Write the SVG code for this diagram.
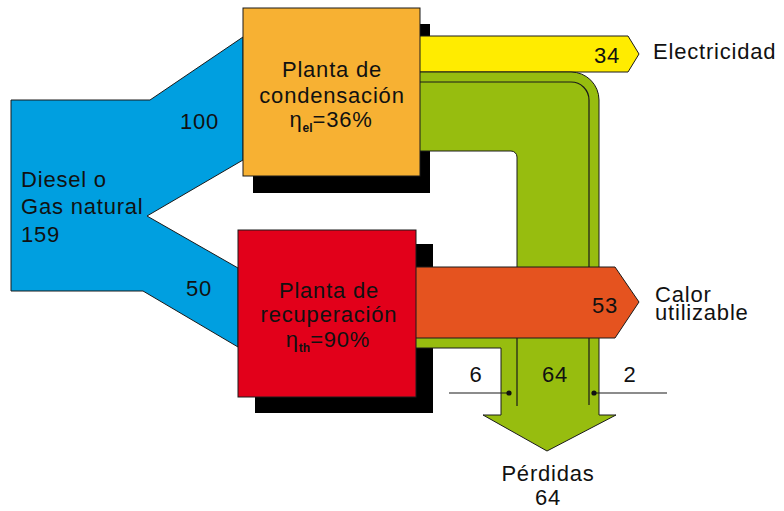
<svg xmlns="http://www.w3.org/2000/svg" width="784" height="511" viewBox="0 0 784 511">
<style>
  text { font-family: "Liberation Sans", Arial, sans-serif; font-size: 22px; letter-spacing: 0.8px; fill: #111; }
  .c { text-anchor: middle; }
  .e { text-anchor: end; }
  .sub { font-size: 12px; font-weight: bold; letter-spacing: 0; }
  .ol { stroke: #1a1a1a; stroke-width: 1; stroke-linejoin: miter; }
  .ln { fill: none; stroke: #1a1a1a; stroke-width: 1.2; }
  .shadow { fill: #000; }
</style>
<rect width="784" height="511" fill="#fff"/>

<g id="shadows">
  <rect class="shadow" x="253" y="24" width="177" height="169"/>
  <rect class="shadow" x="255" y="244" width="178" height="169"/>
</g>

<g id="connectors">
  <polygon id="flow-fuel" class="ol" fill="#009FE0" points="11,100 150,100 243,37 243,160 147,216 238,268 238,347 143,291 11,291"/>
  <polygon id="flow-electricity" class="ol" fill="#FFEC00" points="410,36 628,36 639,54 628,72 410,72"/>
  <path id="flow-losses" class="ol" fill="#97BD0F" d="M410,72 H571 A28,28 0 0 1 599,100 V415 H616 L547,451 L483,415 H501 V348 H410 V300 H517 V157 A6,6 0 0 0 511,151 H410 Z"/>
  <path class="ln" d="M410,82 H571 A18,18 0 0 1 589,100 V405"/>
  <polygon id="flow-heat" class="ol" fill="#E5531F" points="410,267 615,267 639,302 615,338 410,338"/>
  <line class="ln" x1="517" y1="338" x2="517" y2="406"/>
  <line class="ln" x1="449" y1="393" x2="509" y2="393"/>
  <circle cx="509" cy="393" r="2.6" fill="#111"/>
  <line class="ln" x1="594" y1="393" x2="667" y2="393"/>
  <circle cx="594" cy="393" r="2.6" fill="#111"/>
</g>

<g id="node-condensacion">
  <rect class="ol" x="243" y="8" width="177" height="168" fill="#F7B133"/>
  <text class="c" x="332" y="77">Planta de</text>
  <text class="c" x="332" y="103">condensación</text>
  <text class="c" x="331" y="127">η<tspan class="sub" dy="5">el</tspan><tspan dy="-5">=36%</tspan></text>
</g>

<g id="node-recuperacion">
  <rect class="ol" x="238" y="230" width="178" height="167" fill="#E2001A"/>
  <text class="c" x="329" y="298">Planta de</text>
  <text class="c" x="329" y="322">recuperación</text>
  <text class="c" x="328" y="347">η<tspan class="sub" dy="5">th</tspan><tspan dy="-5">=90%</tspan></text>
</g>

<g id="labels">
  <text x="21" y="187">Diesel o</text>
  <text x="21" y="214">Gas natural</text>
  <text x="21" y="242">159</text>
  <text x="180" y="129">100</text>
  <text x="186" y="296">50</text>
  <text class="e" x="620" y="63">34</text>
  <text x="653" y="59">Electricidad</text>
  <text class="e" x="618" y="313">53</text>
  <text x="655" y="302">Calor</text>
  <text x="655" y="320">utilizable</text>
  <text class="c" x="476" y="382">6</text>
  <text class="c" x="555" y="382">64</text>
  <text class="c" x="630" y="382">2</text>
  <text class="c" x="548" y="481">Pérdidas</text>
  <text class="c" x="548" y="505">64</text>
</g>
</svg>
